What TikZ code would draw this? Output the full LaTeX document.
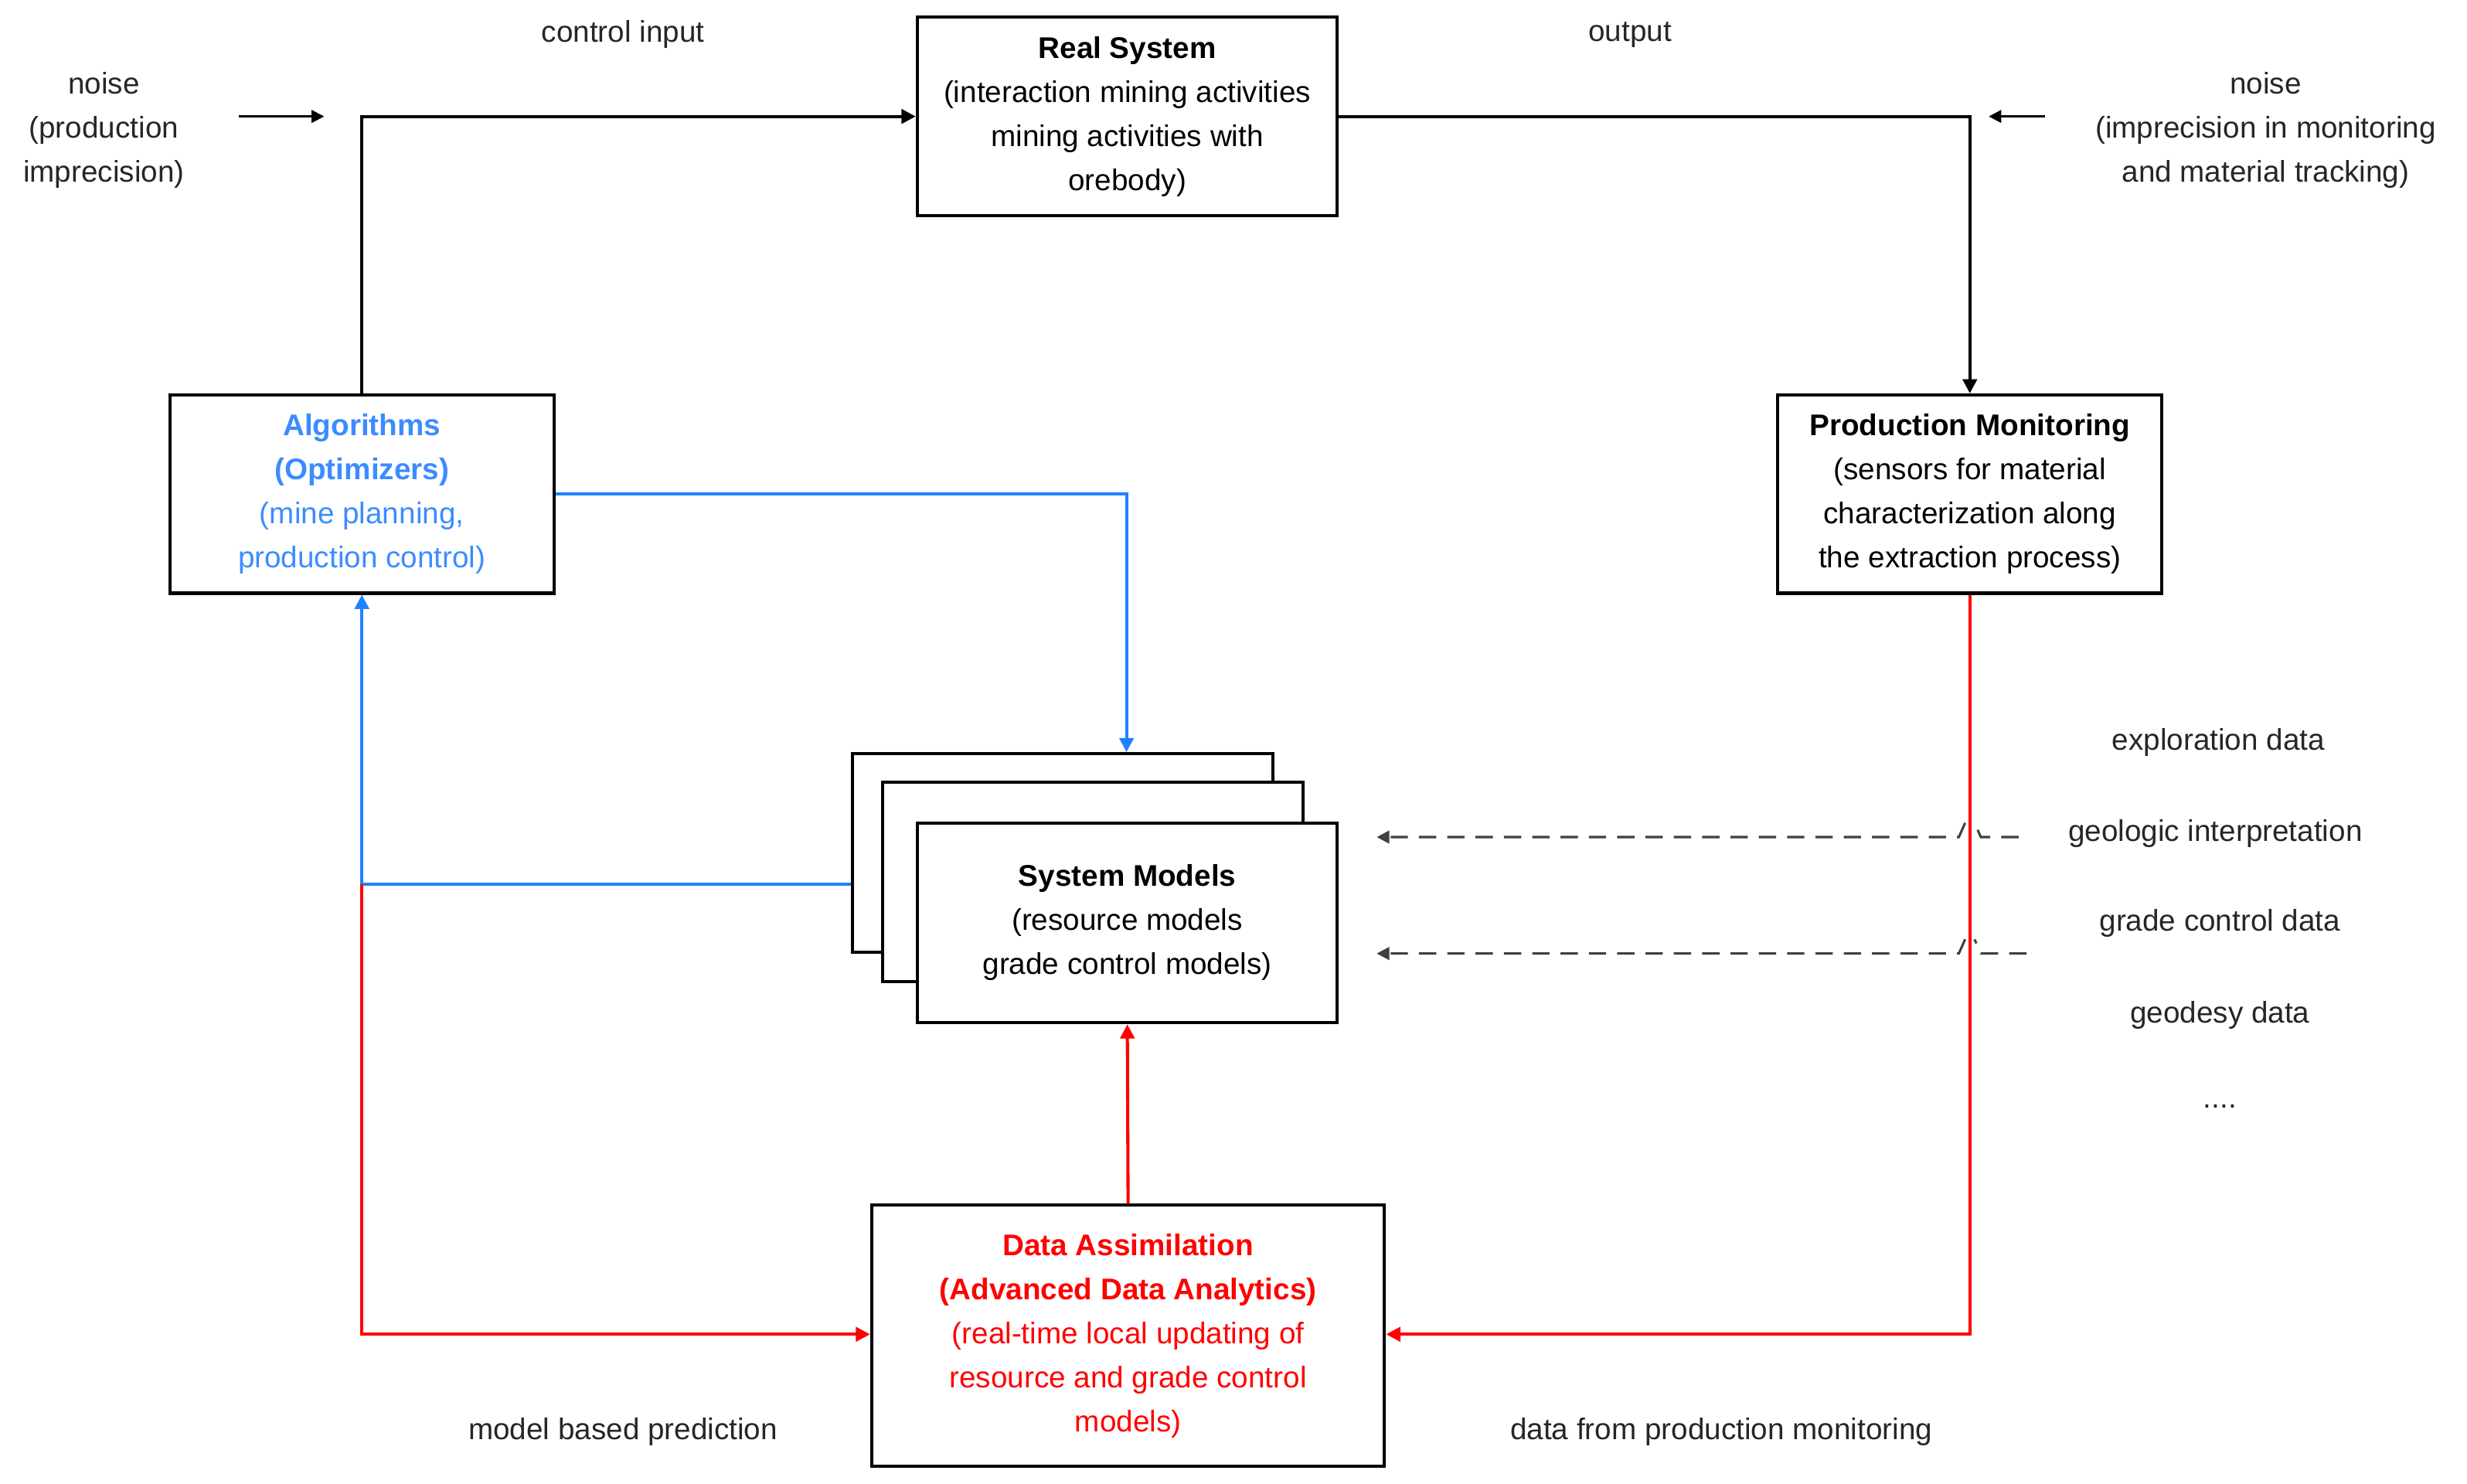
\documentclass[tikz,border=0pt]{standalone}
\usepackage{fontspec}
\setmainfont{Liberation Sans}
\usetikzlibrary{arrows.meta,calc}
\definecolor{myblue}{RGB}{30,130,255}
\definecolor{txtblue}{RGB}{60,140,255}
\definecolor{myred}{RGB}{255,0,0}
\begin{document}
\begin{tikzpicture}[x=1pt,y=-1pt,
  box/.style={draw,line width=2pt,fill=white,inner sep=0pt,align=center},
  lab/.style={inner sep=0pt,align=center,text=black!85},
  arr/.style={line width=2pt,-{Triangle[length=9pt,width=9pt]}},
  ln/.style={line width=2pt},
  every node/.style={font=\fontsize{19}{28}\selectfont}]
\useasboundingbox (0,0) rectangle (1568,943);

% boxes
\node[box,minimum width=267pt,minimum height=126pt] (rs) at (716.5,74)
  {\textbf{Real System}\\(interaction mining activities\\mining activities with\\orebody)};
\node[box,minimum width=244pt,minimum height=126pt,text=txtblue] (alg) at (230,314)
  {\textbf{Algorithms}\\\textbf{(Optimizers)}\\(mine planning,\\production control)};
\node[box,minimum width=244pt,minimum height=126pt] (pm) at (1252,314)
  {\textbf{Production Monitoring}\\(sensors for material\\characterization along\\the extraction process)};
\node[box,minimum width=267pt,minimum height=126pt] (sm3) at (675.5,542) {};
\node[box,minimum width=267pt,minimum height=127pt] (sm2) at (694.5,560.5) {};
\node[box,minimum width=267pt,minimum height=127pt] (sm) at (716.5,586.5)
  {\textbf{System Models}\\(resource models\\grade control models)};
\node[box,minimum width=326pt,minimum height=166pt,text=myred] (da) at (717,849)
  {\textbf{Data Assimilation}\\\textbf{(Advanced Data Analytics)}\\(real-time local updating of\\resource and grade control\\models)};

% labels
\node[lab] at (396,22) {control input};
\node[lab] at (1036,22) {output};
\node[lab] (nl) at (66,83) {noise\\(production\\imprecision)};
\node[lab] (nr) at (1440,83) {noise\\(imprecision in monitoring\\and material tracking)};
\node[lab] at (1410,472) {exploration data};
\node[lab] (gi) at (1408,530) {geologic interpretation};
\node[lab] (gc) at (1411,587) {grade control data};
\node[lab] at (1411,645) {geodesy data};
\node[lab] at (1411,703) {....};
\node[lab] at (396,910) {model based prediction};
\node[lab] at (1094,910) {data from production monitoring};

% black loop
\coordinate (c1) at (alg.north |- rs.west);
\coordinate (c2) at (pm.north |- rs.east);
\draw[arr] (alg.north) -- (c1) -- (rs.west);
\draw[arr] (rs.east) -- (c2) -- (pm.north);
\coordinate (n1a) at (152,74); \coordinate (n1b) at (206,74);
\coordinate (n2a) at (1300,74); \coordinate (n2b) at (1264,74);
\draw[line width=1.5pt,-{Triangle[length=8pt,width=8pt]}] (n1a) -- (n1b);
\draw[line width=1.5pt,-{Triangle[length=8pt,width=8pt]}] (n2a) -- (n2b);

% blue
\coordinate (b1) at (716,314);
\coordinate (b2) at (230,562);
\coordinate (smw) at (sm3.west |- b2);
\draw[arr,myblue] (alg.east |- b1) -- (b1) -- (b1 |- sm3.north);
\draw[arr,myblue] (smw) -- (b2) -- (alg.south);

% red
\coordinate (r1) at (230,848);
\coordinate (r2) at (1252,848);
\draw[arr,myred] (b2) -- (r1) -- (da.west |- r1);
\draw[arr,myred] (pm.south) -- (r2) -- (da.east |- r2);
\draw[arr,myred] (da.north) -- (sm.south);

% dashed inputs with hops over the red line
\draw[line width=1.5pt,black!75,dash pattern=on 11pt off 7pt,-{Triangle[length=8pt,width=8pt]}]
  (1283,532) -- (1259,532) -- (1255,523) (1249,523) -- (1245,532) -- (875,532);
\draw[line width=1.5pt,black!75,dash pattern=on 11pt off 7pt,-{Triangle[length=8pt,width=8pt]}]
  (1288,606) -- (1259,606) -- (1255,597) (1249,597) -- (1245,606) -- (875,606);
\end{tikzpicture}
\end{document}
